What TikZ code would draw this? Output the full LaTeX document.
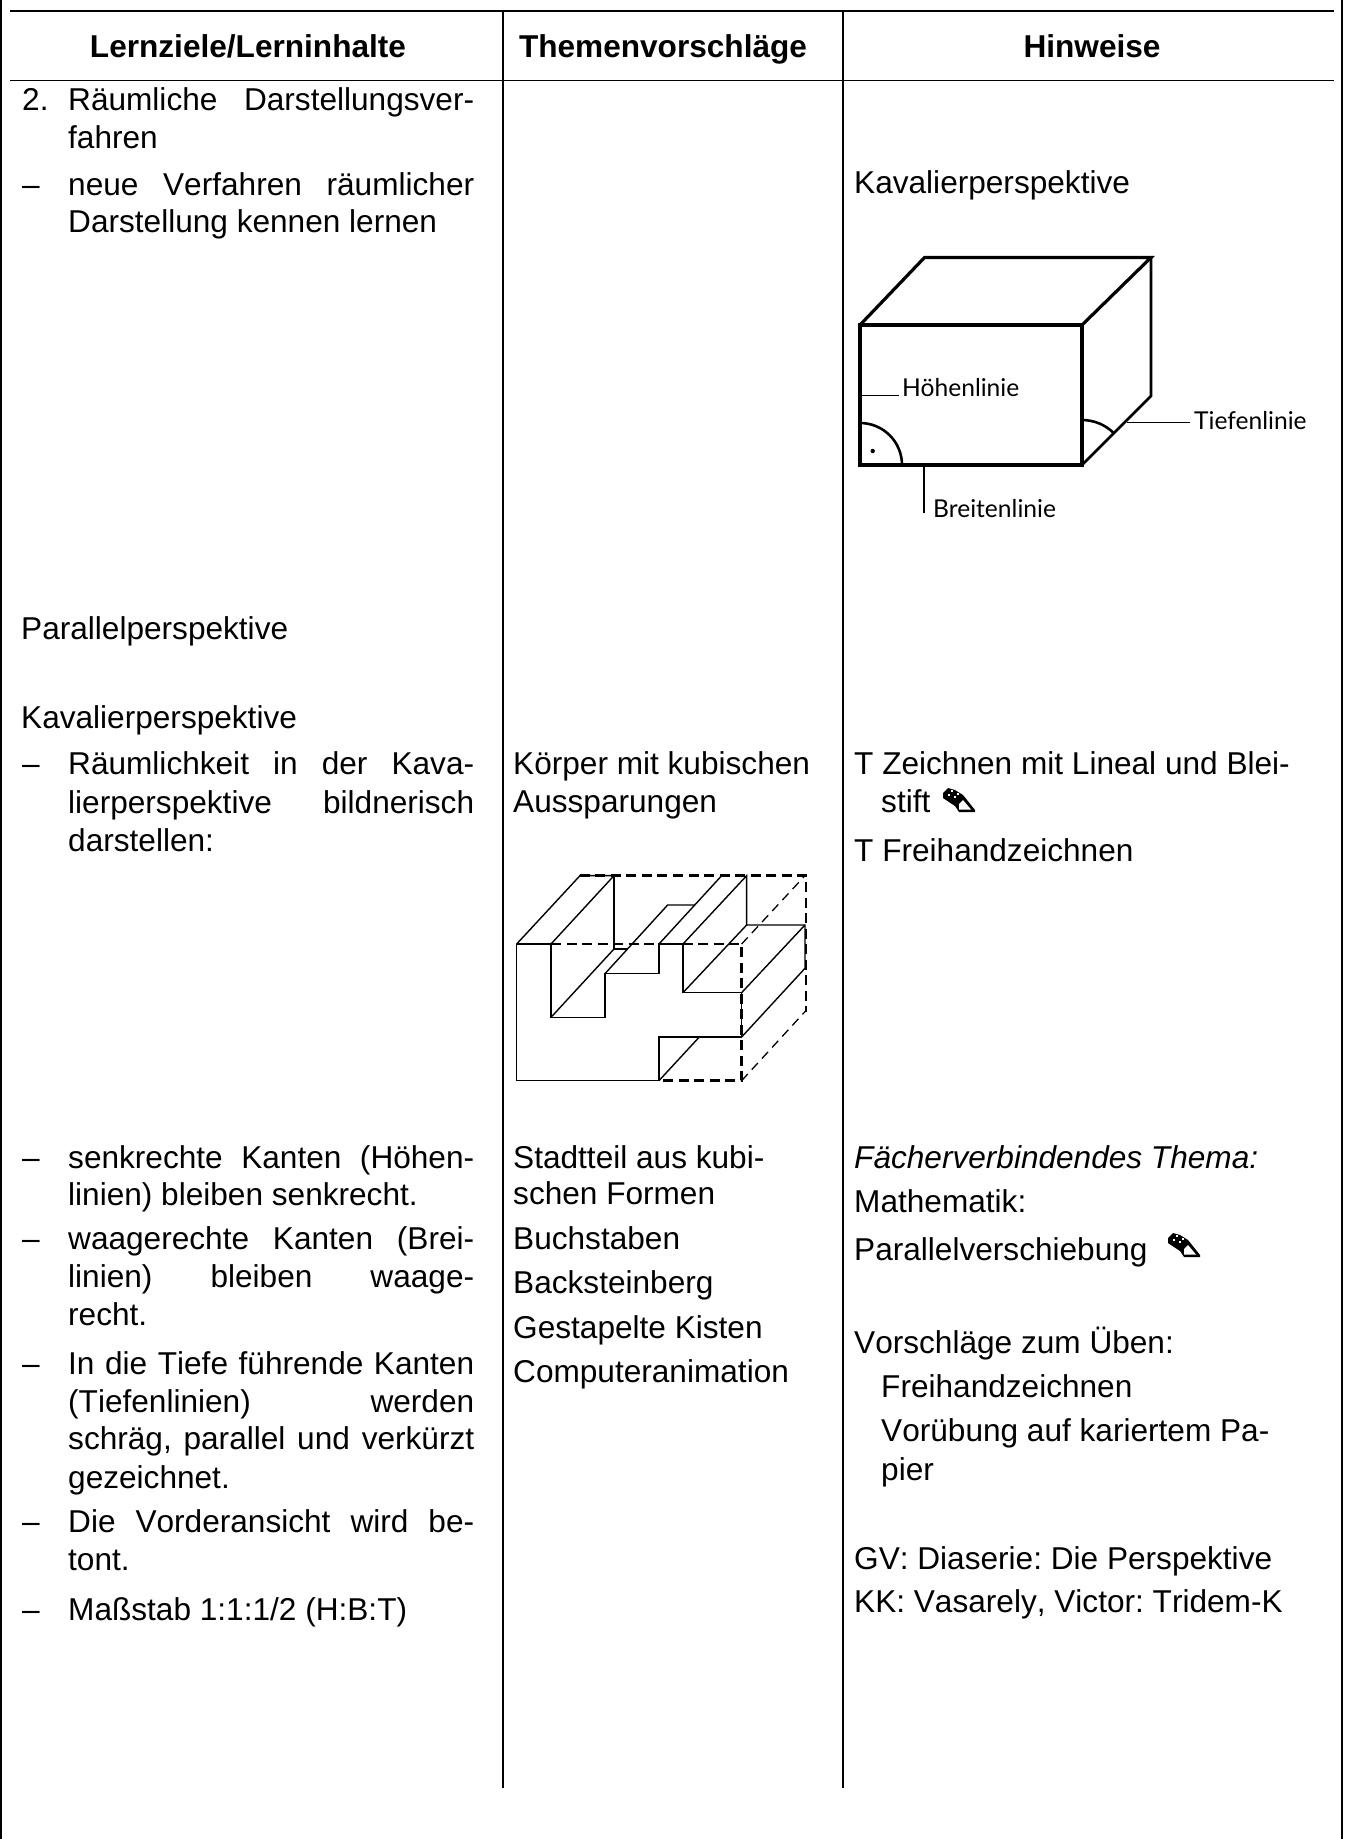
\documentclass[tikz,border=0pt]{standalone}
\usepackage{fontspec}
\setmainfont[Kerning=Off]{Liberation Sans}
\newfontfamily\handfont{Lato}
\newcommand{\J}[1]{\hbox to 406pt{#1}}
\frenchspacing
\tikzset{
  x=1pt,y=-1pt,
  txt/.style={anchor=base west,inner sep=0pt,yshift=-0.5pt,font=\fontsize{31.6}{36}\selectfont},
  head/.style={anchor=base,inner sep=0pt,yshift=-0.5pt,font=\fontsize{31.6}{36}\selectfont\bfseries},
  hand/.style={anchor=base west,inner sep=0pt,font=\fontsize{24.6}{28}\handfont},
  rule/.style={line width=1.6pt},
  rulethick/.style={line width=2.2pt},
  thin3d/.style={line width=1.4pt},
  dash3d/.style={line width=2.8pt,dash pattern=on 10pt off 5.5pt},
  dashlight/.style={line width=1.3pt,dash pattern=on 9pt off 6pt},
  pencil/.pic={
    \fill[black] (-17,-7)--(-12,-12)--(-5,-10)--(3,-5)--(15,10)--(15,12)--(-1,12)--(-5,6)--(-17,-2)--cycle;
    \fill[white] (3,0)--(11,9.5)--(-1,9.5)--(-1,4)--cycle;
    \fill[white] (-12,-6) rectangle (-10,-4);
    \fill[white] (-9,-10) rectangle (-7,-8);
    \fill[white] (-6,-4) rectangle (-4,-2);
    \fill[white] (-3,-7) rectangle (-1,-5);
  }
}
\begin{document}
\begin{tikzpicture}
\useasboundingbox (0,0) rectangle (1344,1839);
% table
\coordinate (tl) at (1,0); \coordinate (bl) at (1,1839);
\coordinate (tr) at (1342,0); \coordinate (br) at (1342,1839);
\coordinate (c2t) at (503,10.5); \coordinate (c2b) at (503,1788);
\coordinate (c3t) at (843,10.5); \coordinate (c3b) at (843,1788);
\coordinate (h1l) at (10,11); \coordinate (h1r) at (1334,11);
\coordinate (h2l) at (10,80.5); \coordinate (h2r) at (1334,80.5);
\draw[rule] (tl)--(bl);
\draw[rule] (tr)--(br);
\draw[rule] (c2t)--(c2b);
\draw[rulethick] (c3t)--(c3b);
\draw[line width=2.6pt] (h1l)--(h1r);
\draw[rule] (h2l)--(h2r);
% headers
\node[head] (hA) at (248,57) {Lernziele/Lerninhalte};
\node[head] (hB) at (663,57) {Themenvorschläge};
\node[head] (hC) at (1092,57) {Hinweise};
% left column
\node[txt] (a0) at (22,110) {2.};
\node[txt] (a1) at (68,110) {\J{Räumliche Darstellungsver-}};
\node[txt] (a2) at (68,148) {fahren};
\node[txt] (a3d) at (22,195) {–};
\node[txt] (a3) at (68,195) {\J{neue Verfahren räumlicher}};
\node[txt] (a4) at (68,232) {Darstellung kennen lernen};
\node[txt] (a5) at (21,639) {Parallelperspektive};
\node[txt] (a6) at (21,728) {Kavalierperspektive};
\node[txt] (a7d) at (22,774) {–};
\node[txt] (a7) at (68,774) {\J{Räumlichkeit in der Kava-}};
\node[txt] (a8) at (68,813) {\J{lierperspektive bildnerisch}};
\node[txt] (a9) at (68,851) {darstellen:};
\node[txt] (a10d) at (22,1168) {–};
\node[txt] (a10) at (68,1168) {\J{senkrechte Kanten (Höhen-}};
\node[txt] (a11) at (68,1205) {linien) bleiben senkrecht.};
\node[txt] (a12d) at (22,1249) {–};
\node[txt] (a12) at (68,1249) {\J{waagerechte Kanten (Brei-}};
\node[txt] (a13) at (68,1287) {\J{linien) bleiben waage-}};
\node[txt] (a14) at (68,1325) {recht.};
\node[txt] (a15d) at (22,1374) {–};
\node[txt] (a15) at (68,1374) {\J{In die Tiefe führende Kanten}};
\node[txt] (a16) at (68,1412) {\J{(Tiefenlinien)\hfill werden}};
\node[txt] (a17) at (68,1449) {\J{schräg, parallel und verkürzt}};
\node[txt] (a18) at (68,1488) {gezeichnet.};
\node[txt] (a19d) at (22,1532) {–};
\node[txt] (a19) at (68,1532) {\J{Die Vorderansicht wird be-}};
\node[txt] (a20) at (68,1570) {tont.};
\node[txt] (a21d) at (22,1620) {–};
\node[txt] (a21) at (68,1620) {Maßstab 1:1:1/2 (H:B:T)};
% middle column
\node[txt] (b1) at (513,774) {Körper mit kubischen};
\node[txt] (b2) at (513,812) {Aussparungen};
\node[txt] (b3) at (513,1168) {Stadtteil aus kubi-};
\node[txt] (b4) at (513,1204) {schen Formen};
\node[txt] (b5) at (513,1249) {Buchstaben};
\node[txt] (b6) at (513,1293) {Backsteinberg};
\node[txt] (b7) at (513,1338) {Gestapelte Kisten};
\node[txt] (b8) at (513,1382) {Computeranimation};
% right column
\node[txt] (c1) at (854,193) {Kavalierperspektive};
\node[txt] (c2) at (854,774) {T Zeichnen mit Lineal und Blei-};
\node[txt] (c3) at (881,812) {stift};
\node[txt] (c4) at (854,861) {T Freihandzeichnen};
\node[txt,font=\fontsize{31.6}{36}\selectfont\itshape] (c5) at (854,1168) {Fächerverbindendes Thema:};
\node[txt] (c6) at (854,1212) {Mathematik:};
\node[txt] (c7) at (854,1260) {Parallelverschiebung};
\node[txt] (c8) at (854,1353) {Vorschläge zum Üben:};
\node[txt] (c9) at (881,1397) {Freihandzeichnen};
\node[txt] (c10) at (881,1441) {Vorübung auf kariertem Pa-};
\node[txt] (c11) at (881,1480) {pier};
\node[txt] (c12) at (854,1569) {GV: Diaserie: Die Perspektive};
\node[txt] (c13) at (854,1612) {KK: Vasarely, Victor: Tridem-K};
\pic at (960,800) {pencil};
\pic at (1185,1245) {pencil};
% cube
\begin{scope}[line join=miter]
\draw[line width=3.4pt] (860,325) rectangle (1082,465);
\draw[line width=3.2pt] (860,325)--(924.5,257.5)--(1151,257.5)--(1082,325);
\draw[line width=2.6pt] (1151,257.5)--(1151,396)--(1082,465);
\draw[line width=2.6pt] (860,423) arc[start angle=-90,end angle=0,radius=42];
\draw[line width=2.6pt] (1082,420) arc[start angle=-90,end angle=-45,radius=45];
\end{scope}
\fill (872.7,451) circle (2.2);
\node[hand] (lh) at (902,396) {Höhenlinie};
\node[hand] (lt) at (1194,429) {Tiefenlinie};
\node[hand] (lb) at (933,517) {Breitenlinie};
\coordinate (lh0) at (861,395.7); \coordinate (lh1) at (899,395.7);
\coordinate (lt0) at (1127,422.7); \coordinate (lt1) at (1190,422.7);
\coordinate (lb0) at (924,467); \coordinate (lb1) at (924,513);
\draw[line width=1.2pt] (lh0)--(lh1);
\draw[line width=1.2pt] (lt0)--(lt1);
\draw[line width=1.2pt] (lb0)--(lb1);
% cut-out solid
\begin{scope}[shift={(500,850)},x=0.3333pt,y=-0.3333pt]
\draw[thin3d] (50,282)--(50,692)--(477,692)--(477,561)--(725,561)--(725,428)--(549,428)--(549,282)--(477,282)--(477,371)--(315,371)--(315,502)--(153,502)--(153,282)--(50,282);
\draw[thin3d] (50,282)--(240,77)--(342,77)--(153,282);
\draw[thin3d] (342,77)--(342,297)--(380,297);
\draw[thin3d] (342,297)--(153,502);
\draw[thin3d] (315,371)--(503,165)--(583,165);
\draw[thin3d] (477,282)--(665,77);
\draw[thin3d] (549,282)--(740,77)--(740,225)--(915,225)--(915,355)--(725,561);
\draw[thin3d] (549,428)--(740,225);
\draw[thin3d] (725,428)--(915,225);
\draw[thin3d] (477,692)--(598,561);
\draw[dash3d] (240,77)--(918,77)--(918,485);
\draw[dash3d] (153,282)--(477,282);
\draw[dash3d] (549,282)--(725,282)--(725,692)--(477,692);
\draw[dashlight] (725,282)--(915,77);
\draw[dashlight] (725,692)--(915,485);
\end{scope}
\end{tikzpicture}
\end{document}
